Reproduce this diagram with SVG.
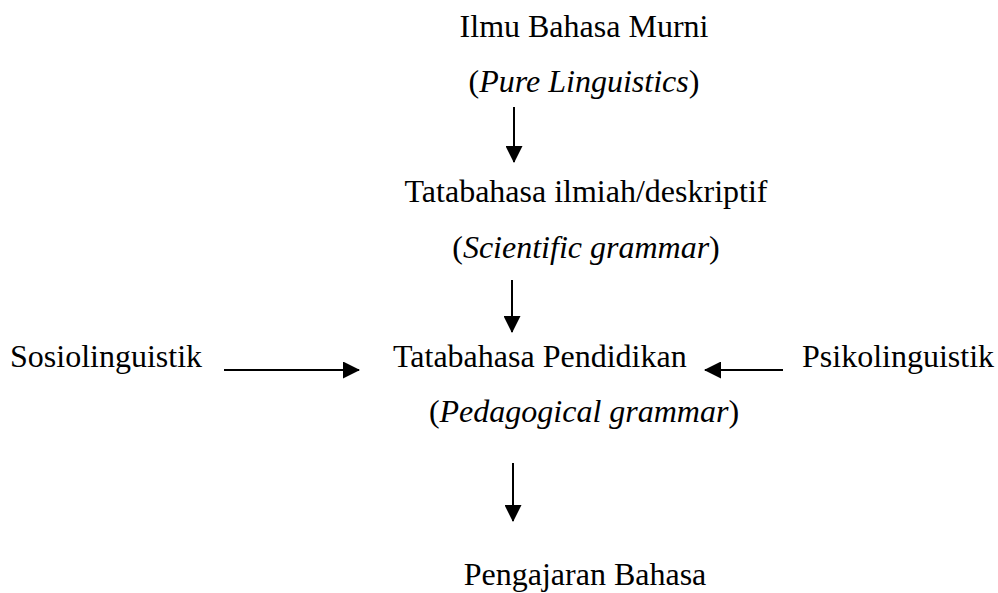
<svg xmlns="http://www.w3.org/2000/svg" width="998" height="593" viewBox="0 0 998 593">
<defs>
<style>
text{font-family:"Liberation Serif","Times New Roman",serif;font-size:32px;fill:#000}
.c{text-anchor:middle}
.i{font-style:italic}
.conn line{stroke:#000;stroke-width:2}
</style>
<marker id="ah" markerUnits="userSpaceOnUse" markerWidth="17" markerHeight="17" refX="16" refY="8.5" orient="auto" viewBox="0 0 17 17">
<path d="M0,0 L17,8.5 L0,17 z" fill="#000"/>
</marker>
</defs>
<rect width="998" height="593" fill="#fff"/>
<g id="pure">
<text class="c" x="584" y="37">Ilmu Bahasa Murni</text>
<text class="c" x="584" y="92">(<tspan class="i">Pure Linguistics</tspan>)</text>
</g>
<g id="scientific">
<text class="c" x="586" y="202">Tatabahasa ilmiah/deskriptif</text>
<text class="c" x="586" y="258">(<tspan class="i">Scientific grammar</tspan>)</text>
</g>
<g id="pedagogical">
<text x="393" y="367">Tatabahasa Pendidikan</text>
<text class="c" x="584" y="422">(<tspan class="i">Pedagogical grammar</tspan>)</text>
</g>
<g id="sosio">
<text x="10" y="367">Sosiolinguistik</text>
</g>
<g id="psiko">
<text x="802" y="367">Psikolinguistik</text>
</g>
<g id="pengajaran">
<text class="c" x="585" y="585">Pengajaran Bahasa</text>
</g>
<g class="conn" id="connectors">
<line x1="514" y1="107" x2="514" y2="162" marker-end="url(#ah)"/>
<line x1="512" y1="280" x2="512" y2="332" marker-end="url(#ah)"/>
<line x1="513" y1="463" x2="513" y2="521" marker-end="url(#ah)"/>
<line x1="224" y1="370" x2="359" y2="370" marker-end="url(#ah)"/>
<line x1="783" y1="370" x2="705" y2="370" marker-end="url(#ah)"/>
</g>
</svg>
